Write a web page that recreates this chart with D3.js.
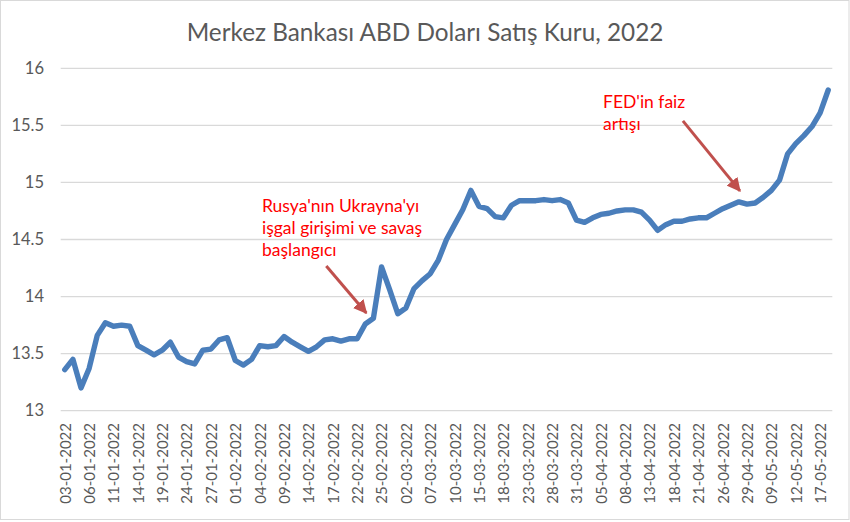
<!DOCTYPE html>
<html><head><meta charset="utf-8">
<script src="https://cdn.jsdelivr.net/npm/d3@7"></script>
<style>body{margin:0;background:#fff} text{font-family:Lato,"Open Sans",sans-serif}</style>
</head><body>
<svg id="c" width="850" height="522"></svg>
<script>
const title = "Merkez Bankası ABD Doları Satış Kuru, 2022";
const dates = [
"03-01-2022","04-01-2022","05-01-2022","06-01-2022","07-01-2022","10-01-2022","11-01-2022","12-01-2022","13-01-2022","14-01-2022",
"17-01-2022","18-01-2022","19-01-2022","20-01-2022","21-01-2022","24-01-2022","25-01-2022","26-01-2022","27-01-2022","28-01-2022",
"31-01-2022","01-02-2022","02-02-2022","03-02-2022","04-02-2022","07-02-2022","08-02-2022","09-02-2022","10-02-2022","11-02-2022",
"14-02-2022","15-02-2022","16-02-2022","17-02-2022","18-02-2022","21-02-2022","22-02-2022","23-02-2022","24-02-2022","25-02-2022",
"28-02-2022","01-03-2022","02-03-2022","03-03-2022","04-03-2022","07-03-2022","08-03-2022","09-03-2022","10-03-2022","11-03-2022",
"14-03-2022","15-03-2022","16-03-2022","17-03-2022","18-03-2022","21-03-2022","22-03-2022","23-03-2022","24-03-2022","25-03-2022",
"28-03-2022","29-03-2022","30-03-2022","31-03-2022","01-04-2022","04-04-2022","05-04-2022","06-04-2022","07-04-2022","08-04-2022",
"11-04-2022","12-04-2022","13-04-2022","14-04-2022","15-04-2022","18-04-2022","19-04-2022","20-04-2022","21-04-2022","22-04-2022",
"25-04-2022","26-04-2022","27-04-2022","28-04-2022","29-04-2022","05-05-2022","06-05-2022","09-05-2022","10-05-2022","11-05-2022",
"12-05-2022","13-05-2022","16-05-2022","17-05-2022","18-05-2022"];
const rates = [
13.36,13.45,13.20,13.37,13.66,13.77,13.74,13.75,13.74,13.57,
13.53,13.49,13.53,13.60,13.47,13.43,13.41,13.53,13.54,13.62,
13.64,13.44,13.40,13.45,13.57,13.56,13.57,13.65,13.60,13.56,
13.52,13.56,13.62,13.63,13.61,13.63,13.63,13.76,13.81,14.26,
14.06,13.85,13.90,14.07,14.14,14.20,14.32,14.50,14.63,14.76,
14.93,14.79,14.77,14.70,14.69,14.80,14.84,14.84,14.84,14.85,
14.84,14.85,14.82,14.67,14.65,14.69,14.72,14.73,14.75,14.76,
14.76,14.74,14.67,14.58,14.63,14.66,14.66,14.68,14.69,14.69,
14.73,14.77,14.80,14.83,14.81,14.82,14.87,14.93,15.02,15.25,
15.34,15.41,15.49,15.61,15.81];
const yTicks = [13, 13.5, 14, 14.5, 15, 15.5, 16];
const xTickLabels = dates.filter((d, i) => i % 3 === 0);
const noteRussia = ["Rusya'nın Ukrayna'yı", "işgal girişimi ve savaş", "başlangıcı"];
const noteFed = ["FED'in faiz", "artışı"];
const noteRussiaDate = "23-02-2022";
const noteFedDate = "28-04-2022";

const svg = d3.select("#c");
const grey = "#595959";
svg.append("rect").attr("x",0.5).attr("y",0.5).attr("width",848.5).attr("height",519)
  .attr("fill","#fff").attr("stroke","#d9d9d9");

const x = d3.scalePoint().domain(dates).range([60.7, 832.3]).padding(0.5);
const y = d3.scaleLinear().domain([13, 16]).range([410.7, 68.3]);

// gridlines
svg.append("g").selectAll("line").data(yTicks).join("line")
  .attr("x1",60.7).attr("x2",832.3).attr("y1",d=>y(d)).attr("y2",d=>y(d))
  .attr("stroke","#d9d9d9").attr("stroke-width",1.3);

// y axis
const ya = svg.append("g").attr("transform","translate(44,0)")
  .call(d3.axisLeft(y).tickValues(yTicks).tickSize(0).tickPadding(0).tickFormat(d=>String(d)));
ya.select(".domain").remove();
ya.selectAll("text").attr("fill",grey).style("font-size","16.5px").style("font-family","Lato");

// x axis
const xa = svg.append("g").attr("transform","translate(0,421)")
  .call(d3.axisBottom(x).tickValues(xTickLabels).tickSize(0).tickPadding(0));
xa.select(".domain").remove();
xa.selectAll("text").attr("fill",grey).style("font-size","15px").style("font-family","Lato")
  .attr("text-anchor","end").attr("transform","rotate(-90)").attr("x",-2).attr("y",0).attr("dy","0.36em");

// line
svg.append("path").datum(rates)
  .attr("d", d3.line().x((d,i)=>x(dates[i])).y(d=>y(d)))
  .attr("fill","none").attr("stroke","#4a7ebb").attr("stroke-width",5.4)
  .attr("stroke-linejoin","round").attr("stroke-linecap","round");

// title
svg.append("text").attr("x",425).attr("y",41).attr("text-anchor","middle")
  .attr("fill",grey).style("font-size","24.3px").text(title);

// annotations
const defs = svg.append("defs");
defs.append("marker").attr("id","ah").attr("viewBox","0 0 10 10").attr("refX",9).attr("refY",5)
  .attr("markerWidth",4.6).attr("markerHeight",4.6).attr("orient","auto")
  .append("path").attr("d","M0,0 L10,5 L0,10 z").attr("fill","#c0504d");

function note(lines, lx, ly, lh, tipDate, dxs, dys) {
  const t = svg.append("text").attr("fill","#ff0000").style("font-size","17.5px");
  lines.forEach((s,k)=> t.append("tspan").attr("x",lx).attr("y",ly+k*lh).text(s));
  const i = dates.indexOf(tipDate);
  const tx = x(tipDate)+1, ty = y(rates[i]) - 11;
  svg.append("line").attr("x1",tx+dxs).attr("y1",ty+dys).attr("x2",tx).attr("y2",ty)
    .attr("stroke","#c0504d").attr("stroke-width",3).attr("marker-end","url(#ah)");
}
note(noteRussia, 262, 212, 22, noteRussiaDate, -40, -47);
note(noteFed, 603, 108, 22, noteFedDate, -57, -70);
</script></body></html>
